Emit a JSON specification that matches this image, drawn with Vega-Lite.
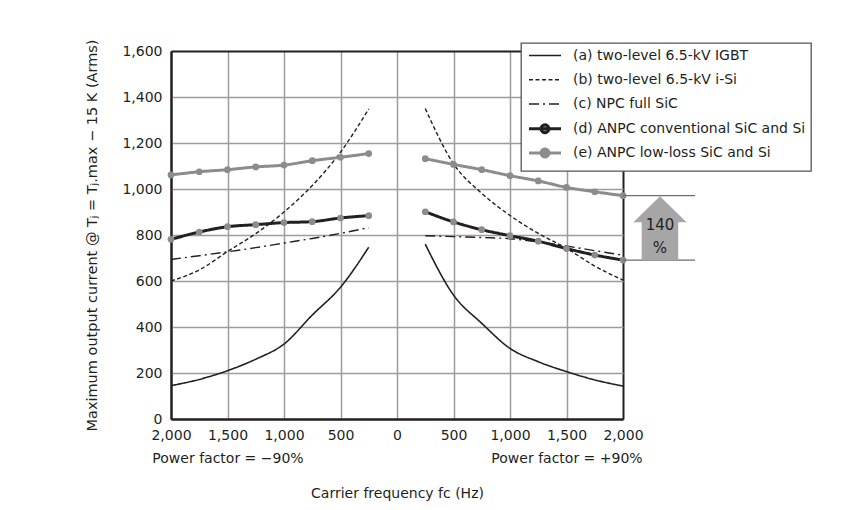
{
  "$schema": "https://vega.github.io/schema/vega-lite/v6.json",
  "width": 452,
  "height": 368,
  "autosize": "none",
  "padding": {"left": 171, "top": 51, "right": 243, "bottom": 91},
  "background": "white",
  "config": {
    "view": {"stroke": null},
    "font": "DejaVu Sans",
    "axis": {
      "labelFont": "DejaVu Sans",
      "labelFontSize": 14,
      "labelColor": "#231f20",
      "titleFont": "DejaVu Sans",
      "titleFontWeight": "normal",
      "titleColor": "#231f20",
      "domainColor": "#231f20",
      "domainWidth": 2,
      "ticks": false
    },
    "legend": {
      "orient": "none",
      "legendX": 350,
      "legendY": -8,
      "fillColor": "white",
      "strokeColor": "#555555",
      "strokeWidth": 1.3,
      "padding": 5,
      "rowPadding": -1.75,
      "gridAlign": "all",
      "symbolSize": 169,
      "labelFont": "DejaVu Sans",
      "labelFontSize": 14,
      "labelColor": "#231f20",
      "labelOffset": 31,
      "labelLimit": 400
    }
  },
  "datasets": {
    "curves": [
      {"series": "(a) two-level 6.5-kV IGBT", "side": "L", "f": -2000, "I": 145},
      {"series": "(a) two-level 6.5-kV IGBT", "side": "L", "f": -1750, "I": 172},
      {"series": "(a) two-level 6.5-kV IGBT", "side": "L", "f": -1500, "I": 210},
      {"series": "(a) two-level 6.5-kV IGBT", "side": "L", "f": -1250, "I": 260},
      {"series": "(a) two-level 6.5-kV IGBT", "side": "L", "f": -1000, "I": 326},
      {"series": "(a) two-level 6.5-kV IGBT", "side": "L", "f": -750, "I": 452},
      {"series": "(a) two-level 6.5-kV IGBT", "side": "L", "f": -500, "I": 573},
      {"series": "(a) two-level 6.5-kV IGBT", "side": "L", "f": -250, "I": 747},
      {"series": "(a) two-level 6.5-kV IGBT", "side": "R", "f": 250, "I": 760},
      {"series": "(a) two-level 6.5-kV IGBT", "side": "R", "f": 500, "I": 539},
      {"series": "(a) two-level 6.5-kV IGBT", "side": "R", "f": 750, "I": 416},
      {"series": "(a) two-level 6.5-kV IGBT", "side": "R", "f": 1000, "I": 307},
      {"series": "(a) two-level 6.5-kV IGBT", "side": "R", "f": 1250, "I": 249},
      {"series": "(a) two-level 6.5-kV IGBT", "side": "R", "f": 1500, "I": 206},
      {"series": "(a) two-level 6.5-kV IGBT", "side": "R", "f": 1750, "I": 170},
      {"series": "(a) two-level 6.5-kV IGBT", "side": "R", "f": 2000, "I": 143},
      {"series": "(b) two-level 6.5-kV i-Si", "side": "L", "f": -2000, "I": 600},
      {"series": "(b) two-level 6.5-kV i-Si", "side": "L", "f": -1750, "I": 648},
      {"series": "(b) two-level 6.5-kV i-Si", "side": "L", "f": -1500, "I": 728},
      {"series": "(b) two-level 6.5-kV i-Si", "side": "L", "f": -1250, "I": 806},
      {"series": "(b) two-level 6.5-kV i-Si", "side": "L", "f": -1000, "I": 900},
      {"series": "(b) two-level 6.5-kV i-Si", "side": "L", "f": -750, "I": 1015},
      {"series": "(b) two-level 6.5-kV i-Si", "side": "L", "f": -500, "I": 1160},
      {"series": "(b) two-level 6.5-kV i-Si", "side": "L", "f": -250, "I": 1348},
      {"series": "(b) two-level 6.5-kV i-Si", "side": "R", "f": 250, "I": 1350},
      {"series": "(b) two-level 6.5-kV i-Si", "side": "R", "f": 500, "I": 1110},
      {"series": "(b) two-level 6.5-kV i-Si", "side": "R", "f": 750, "I": 981},
      {"series": "(b) two-level 6.5-kV i-Si", "side": "R", "f": 1000, "I": 885},
      {"series": "(b) two-level 6.5-kV i-Si", "side": "R", "f": 1250, "I": 807},
      {"series": "(b) two-level 6.5-kV i-Si", "side": "R", "f": 1500, "I": 742},
      {"series": "(b) two-level 6.5-kV i-Si", "side": "R", "f": 1750, "I": 665},
      {"series": "(b) two-level 6.5-kV i-Si", "side": "R", "f": 2000, "I": 604},
      {"series": "(c) NPC full SiC", "side": "L", "f": -2000, "I": 694},
      {"series": "(c) NPC full SiC", "side": "L", "f": -1750, "I": 710},
      {"series": "(c) NPC full SiC", "side": "L", "f": -1500, "I": 727},
      {"series": "(c) NPC full SiC", "side": "L", "f": -1250, "I": 745},
      {"series": "(c) NPC full SiC", "side": "L", "f": -1000, "I": 765},
      {"series": "(c) NPC full SiC", "side": "L", "f": -750, "I": 785},
      {"series": "(c) NPC full SiC", "side": "L", "f": -500, "I": 807},
      {"series": "(c) NPC full SiC", "side": "L", "f": -250, "I": 832},
      {"series": "(c) NPC full SiC", "side": "R", "f": 250, "I": 797},
      {"series": "(c) NPC full SiC", "side": "R", "f": 500, "I": 793},
      {"series": "(c) NPC full SiC", "side": "R", "f": 750, "I": 789},
      {"series": "(c) NPC full SiC", "side": "R", "f": 1000, "I": 784},
      {"series": "(c) NPC full SiC", "side": "R", "f": 1250, "I": 770},
      {"series": "(c) NPC full SiC", "side": "R", "f": 1500, "I": 752},
      {"series": "(c) NPC full SiC", "side": "R", "f": 1750, "I": 732},
      {"series": "(c) NPC full SiC", "side": "R", "f": 2000, "I": 712},
      {"series": "(d) ANPC conventional SiC and Si", "side": "L", "f": -2000, "I": 781},
      {"series": "(d) ANPC conventional SiC and Si", "side": "L", "f": -1750, "I": 813},
      {"series": "(d) ANPC conventional SiC and Si", "side": "L", "f": -1500, "I": 836},
      {"series": "(d) ANPC conventional SiC and Si", "side": "L", "f": -1250, "I": 845},
      {"series": "(d) ANPC conventional SiC and Si", "side": "L", "f": -1000, "I": 854},
      {"series": "(d) ANPC conventional SiC and Si", "side": "L", "f": -750, "I": 858},
      {"series": "(d) ANPC conventional SiC and Si", "side": "L", "f": -500, "I": 874},
      {"series": "(d) ANPC conventional SiC and Si", "side": "L", "f": -250, "I": 884},
      {"series": "(d) ANPC conventional SiC and Si", "side": "R", "f": 250, "I": 901},
      {"series": "(d) ANPC conventional SiC and Si", "side": "R", "f": 500, "I": 857},
      {"series": "(d) ANPC conventional SiC and Si", "side": "R", "f": 750, "I": 823},
      {"series": "(d) ANPC conventional SiC and Si", "side": "R", "f": 1000, "I": 797},
      {"series": "(d) ANPC conventional SiC and Si", "side": "R", "f": 1250, "I": 773},
      {"series": "(d) ANPC conventional SiC and Si", "side": "R", "f": 1500, "I": 741},
      {"series": "(d) ANPC conventional SiC and Si", "side": "R", "f": 1750, "I": 713},
      {"series": "(d) ANPC conventional SiC and Si", "side": "R", "f": 2000, "I": 691},
      {"series": "(e) ANPC low-loss SiC and Si", "side": "L", "f": -2000, "I": 1061},
      {"series": "(e) ANPC low-loss SiC and Si", "side": "L", "f": -1750, "I": 1075},
      {"series": "(e) ANPC low-loss SiC and Si", "side": "L", "f": -1500, "I": 1084},
      {"series": "(e) ANPC low-loss SiC and Si", "side": "L", "f": -1250, "I": 1096},
      {"series": "(e) ANPC low-loss SiC and Si", "side": "L", "f": -1000, "I": 1104},
      {"series": "(e) ANPC low-loss SiC and Si", "side": "L", "f": -750, "I": 1123},
      {"series": "(e) ANPC low-loss SiC and Si", "side": "L", "f": -500, "I": 1138},
      {"series": "(e) ANPC low-loss SiC and Si", "side": "L", "f": -250, "I": 1154},
      {"series": "(e) ANPC low-loss SiC and Si", "side": "R", "f": 250, "I": 1132},
      {"series": "(e) ANPC low-loss SiC and Si", "side": "R", "f": 500, "I": 1107},
      {"series": "(e) ANPC low-loss SiC and Si", "side": "R", "f": 750, "I": 1084},
      {"series": "(e) ANPC low-loss SiC and Si", "side": "R", "f": 1000, "I": 1058},
      {"series": "(e) ANPC low-loss SiC and Si", "side": "R", "f": 1250, "I": 1035},
      {"series": "(e) ANPC low-loss SiC and Si", "side": "R", "f": 1500, "I": 1007},
      {"series": "(e) ANPC low-loss SiC and Si", "side": "R", "f": 1750, "I": 988},
      {"series": "(e) ANPC low-loss SiC and Si", "side": "R", "f": 2000, "I": 971}
    ],
    "rules": [
      {"f": 2000, "f2": 2637, "I": 971},
      {"f": 2000, "f2": 2637, "I": 691}
    ],
    "arrow": [
      {"f": 2327, "I": 829}
    ],
    "notes": [
      {"f": 2327, "I": 843, "label": "140"},
      {"f": 2327, "I": 742, "label": "%"}
    ]
  },
  "layer": [
    {
      "data": {"name": "curves"},
      "mark": {"type": "line", "interpolate": "monotone"},
      "encoding": {
        "x": {
          "field": "f", "type": "quantitative",
          "scale": {"domain": [-2000, 2000], "nice": false, "zero": false},
          "axis": {
            "values": [-2000, -1500, -1000, -500, 0, 500, 1000, 1500, 2000],
            "grid": true,
            "gridColor": {"condition": {"test": "abs(datum.value) == 2000", "value": "#231f20"}, "value": "#9d9d9d"},
            "gridWidth": {"condition": {"test": "abs(datum.value) == 2000", "value": 2}, "value": 1.5},
            "labelExpr": "datum.value == -1500 ? [format(abs(datum.value), ','), 'Power factor = \u221290%'] : datum.value == 1500 ? [format(abs(datum.value), ','), 'Power factor = +90%'] : format(abs(datum.value), ',')",
            "labelOverlap": false,
            "labelFlush": false,
            "labelBound": false,
            "labelPadding": 9,
            "labelLineHeight": 23,
            "title": "Carrier frequency fc (Hz)",
            "titleFontSize": 14,
            "titleX": 226,
            "titleY": 74,
            "titleBaseline": "middle",
            "titleAlign": "center"
          }
        },
        "y": {
          "field": "I", "type": "quantitative",
          "scale": {"domain": [0, 1600], "nice": false},
          "axis": {
            "values": [0, 200, 400, 600, 800, 1000, 1200, 1400, 1600],
            "format": ",d",
            "grid": true,
            "gridColor": {"condition": {"test": "datum.value == 1600 || datum.value == 0", "value": "#231f20"}, "value": "#9d9d9d"},
            "gridWidth": {"condition": {"test": "datum.value == 1600 || datum.value == 0", "value": 2}, "value": 1.5},
            "labelPadding": 9,
            "title": "Maximum output current @ T\u2C7C = T\u2C7C.max \u2212 15 K (Arms)",
            "titleFontSize": 14.5,
            "titleX": -79,
            "titleY": 184,
            "titleAngle": -90,
            "titleBaseline": "middle",
            "titleAlign": "center"
          }
        },
        "color": {
          "field": "series", "type": "nominal",
          "scale": {
            "domain": ["(a) two-level 6.5-kV IGBT", "(b) two-level 6.5-kV i-Si", "(c) NPC full SiC", "(d) ANPC conventional SiC and Si", "(e) ANPC low-loss SiC and Si"],
            "range": ["#231f20", "#231f20", "#231f20", "#231f20", "#8c8c8c"]
          },
          "legend": {
            "title": null,
            "encode": {
              "symbols": {
                "update": {
                  "shape": {"signal": "(substring(datum.value,0,3)=='(d)' || substring(datum.value,0,3)=='(e)') ? 'M1.69,-1M1.69,1M-0.77,0H4.16M2.29,0A0.6,0.6 0 1,1 1.09,0A0.6,0.6 0 1,1 2.29,0Z' : 'M1.69,-1M1.69,1M-0.77,0H4.16'"},
                  "fill": {"signal": "(substring(datum.value,0,3)=='(d)' || substring(datum.value,0,3)=='(e)') ? '#8c8c8c' : 'transparent'"}
                }
              }
            }
          }
        },
        "strokeDash": {
          "field": "series", "type": "nominal",
          "scale": {
            "domain": ["(a) two-level 6.5-kV IGBT", "(b) two-level 6.5-kV i-Si", "(c) NPC full SiC", "(d) ANPC conventional SiC and Si", "(e) ANPC low-loss SiC and Si"],
            "range": [[1, 0], [4, 2.5], [10, 4, 2, 4], [1, 0], [1, 0]]
          },
          "legend": {"title": null}
        },
        "strokeWidth": {
          "field": "series", "type": "nominal",
          "scale": {
            "type": "ordinal",
            "domain": ["(a) two-level 6.5-kV IGBT", "(b) two-level 6.5-kV i-Si", "(c) NPC full SiC", "(d) ANPC conventional SiC and Si", "(e) ANPC low-loss SiC and Si"],
            "range": [1.6, 1.4, 1.4, 3, 3]
          },
          "legend": {"title": null}
        },
        "detail": {"field": "side", "type": "nominal"}
      }
    },
    {
      "data": {"name": "curves"},
      "transform": [{"filter": "substring(datum.series,0,3)=='(d)' || substring(datum.series,0,3)=='(e)'"}],
      "mark": {"type": "point", "filled": true, "size": 45, "color": "#8c8c8c", "opacity": 1},
      "encoding": {
        "x": {"field": "f", "type": "quantitative"},
        "y": {"field": "I", "type": "quantitative"}
      }
    },
    {
      "data": {"name": "rules"},
      "mark": {"type": "rule", "color": "#6d6d6d", "strokeWidth": 1.3},
      "encoding": {
        "x": {"field": "f", "type": "quantitative"},
        "x2": {"field": "f2"},
        "y": {"field": "I", "type": "quantitative"}
      }
    },
    {
      "data": {"name": "arrow"},
      "mark": {"type": "point", "filled": true, "shape": "M0,-1L0.83,-0.19L0.57,-0.19L0.57,1L-0.57,1L-0.57,-0.19L-0.83,-0.19Z", "size": 4096, "color": "#a6a6a6", "opacity": 1, "strokeWidth": 0},
      "encoding": {
        "x": {"field": "f", "type": "quantitative"},
        "y": {"field": "I", "type": "quantitative"}
      }
    },
    {
      "data": {"name": "notes"},
      "mark": {"type": "text", "font": "DejaVu Sans", "fontSize": 15, "color": "#231f20", "baseline": "middle", "align": "center"},
      "encoding": {
        "x": {"field": "f", "type": "quantitative"},
        "y": {"field": "I", "type": "quantitative"},
        "text": {"field": "label"}
      }
    }
  ]
}
